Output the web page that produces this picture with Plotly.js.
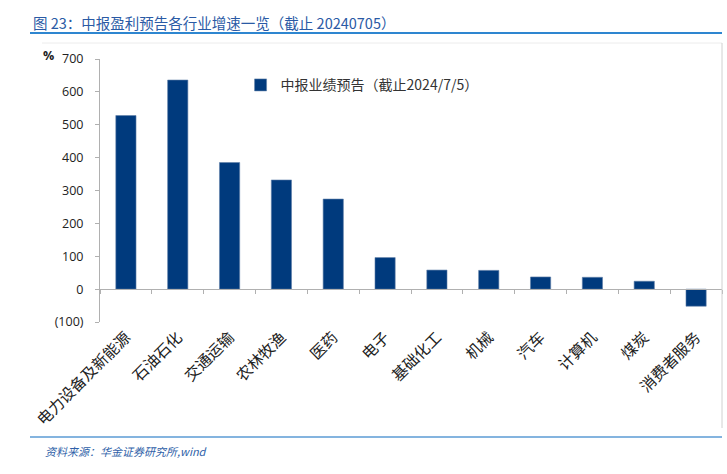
<!DOCTYPE html>
<html>
<head>
<meta charset="utf-8">
<script src="https://cdn.plot.ly/plotly-3.0.1.min.js"></script>
<style>
  html, body { margin: 0; padding: 0; background: #ffffff; }
  #chart { width: 727px; height: 474px; }
</style>
</head>
<body>
<div id="chart"></div>
<script>
// ---- data ----
const categories = ["电力设备及新能源", "石油石化", "交通运输", "农林牧渔", "医药", "电子", "基础化工", "机械", "汽车", "计算机", "煤炭", "消费者服务"];
const growth = [528, 636, 385, 332, 274, 96, 58, 57, 37, 36, 24, -52];
const seriesName = "中报业绩预告（截止2024/7/5）";
const yTickVals = [-100, 0, 100, 200, 300, 400, 500, 600, 700];
const yTickText = ["(100)", "0", "100", "200", "300", "400", "500", "600", "700"];
const titleText = "图 23：中报盈利预告各行业增速一览（截止 20240705）";
const sourceText = "资料来源：华金证券研究所,wind";

const yMin = -100, yMax = 700;

const trace = {
  type: "bar",
  x: categories,
  y: growth,
  name: seriesName,
  marker: { color: "#003a7d", line: { color: "#5f7fa8", width: 0.6 } },
  showlegend: true,
  hoverinfo: "x+y"
};

const layout = {
  width: 727,
  height: 474,
  margin: { l: 100, r: 5, t: 59, b: 152 },
  paper_bgcolor: "#ffffff",
  plot_bgcolor: "#ffffff",
  bargap: 0.61,
  showlegend: true,
  legend: {
    x: 0.226, y: 0.90, xanchor: "left", yanchor: "middle",
    font: { family: "Noto Sans CJK SC, sans-serif", size: 14, color: "#333333" },
    bgcolor: "rgba(0,0,0,0)", itemwidth: 30
  },
  xaxis: {
    type: "category",
    anchor: "free",
    position: (0 - yMin) / (yMax - yMin),
    showline: true, linecolor: "#b0b0b0", linewidth: 1,
    ticks: "outside", ticklen: 4, tickcolor: "#b0b0b0", tickson: "boundaries",
    tickangle: -45,
    ticklabelstandoff: 32,
    tickfont: { family: "Noto Sans CJK SC, serif", size: 15.5, color: "#222222" },
    showgrid: false, zeroline: false
  },
  yaxis: {
    range: [yMin, yMax],
    tickvals: yTickVals,
    ticktext: yTickText,
    showline: true, linecolor: "#b0b0b0", linewidth: 1,
    ticks: "outside", ticklen: 4, tickcolor: "#b0b0b0",
    ticklabelstandoff: 9,
    tickfont: { family: "Open Sans, sans-serif", size: 12.5, color: "#222222" },
    showgrid: false, zeroline: false
  },
  annotations: [
    {
      text: titleText, xref: "paper", yref: "paper",
      x: (31 - 100) / 622, y: (322 - 22) / 263, xanchor: "left", yanchor: "middle",
      showarrow: false,
      font: { family: "Noto Sans CJK SC, sans-serif", size: 14.5, color: "#2a5aa5" }
    },
    {
      text: "<b>%</b>", xref: "paper", yref: "paper",
      x: (48 - 100) / 622, y: (322 - 55) / 263, xanchor: "center", yanchor: "middle",
      showarrow: false,
      font: { family: "Open Sans, sans-serif", size: 12.5, color: "#222222" }
    },
    {
      text: "<i>" + sourceText + "</i>", xref: "paper", yref: "paper",
      x: (43 - 100) / 622, y: (322 - 451) / 263, xanchor: "left", yanchor: "middle",
      showarrow: false,
      font: { family: "Noto Sans CJK SC, sans-serif", size: 11, color: "#2f5fa8" }
    }
  ],
  shapes: [
    { type: "line", xref: "paper", yref: "paper",
      x0: (30 - 100) / 622, x1: (722 - 100) / 622, y0: (322 - 33) / 263, y1: (322 - 33) / 263,
      line: { color: "#2e86d0", width: 2 } },
    { type: "line", xref: "paper", yref: "paper",
      x0: (42 - 100) / 622, x1: (722 - 100) / 622, y0: (322 - 43) / 263, y1: (322 - 43) / 263,
      line: { color: "#ececec", width: 1 } },
    { type: "line", xref: "paper", yref: "paper",
      x0: (722 - 100) / 622, x1: (722 - 100) / 622, y0: (322 - 43) / 263, y1: (322 - 428) / 263,
      line: { color: "#d0d0d0", width: 1 } },
    { type: "line", xref: "paper", yref: "paper",
      x0: (30 - 100) / 622, x1: (722 - 100) / 622, y0: (322 - 437) / 263, y1: (322 - 437) / 263,
      line: { color: "#5b9bd5", width: 1.5 } }
  ]
};

Plotly.newPlot("chart", [trace], layout, { displayModeBar: false, staticPlot: true });
</script>
</body>
</html>
